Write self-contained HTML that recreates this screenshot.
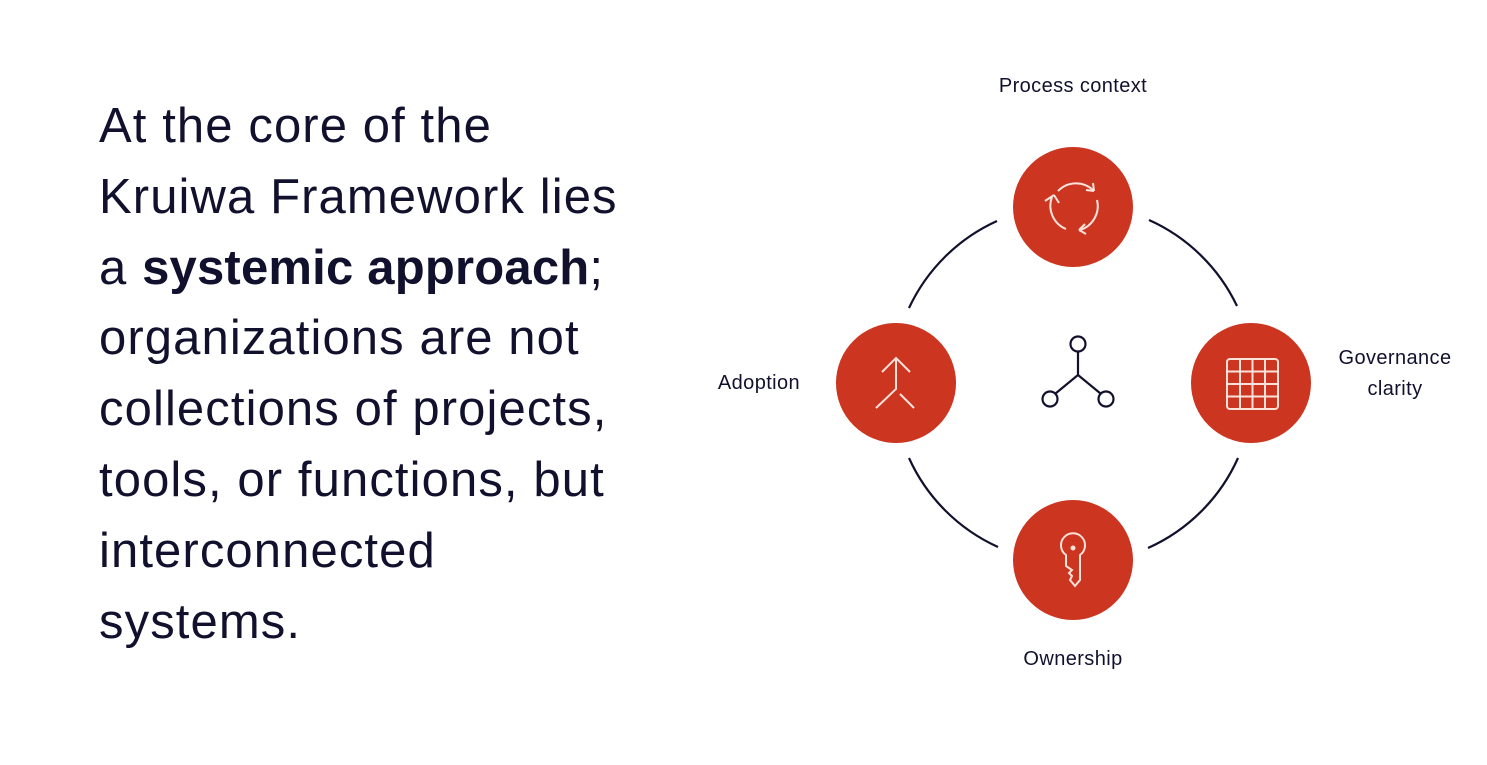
<!DOCTYPE html>
<html><head><meta charset="utf-8"><style>
html,body{margin:0;padding:0;background:#fff;}
body{width:1487px;height:765px;position:relative;overflow:hidden;font-family:"Liberation Sans",sans-serif;color:#11112e;}
.t{position:absolute;left:99px;top:91px;font-size:49px;line-height:70.8px;letter-spacing:1.1px;}
.t b{letter-spacing:0.2px;}
.l{position:absolute;font-size:20px;text-align:center;line-height:31px;letter-spacing:0.4px;}
</style></head><body>
<div class="t">At the core of the<br>Kruiwa Framework lies<br>a <b>systemic approach</b>;<br>organizations are not<br>collections of projects,<br>tools, or functions, but<br>interconnected<br>systems.</div>
<div class="l" style="left:963px;top:71px;width:220px">Process context</div>
<div class="l" style="left:695px;top:368px;width:128px">Adoption</div>
<div class="l" style="left:1320px;top:343px;width:150px">Governance<br>clarity</div>
<div class="l" style="left:963px;top:644px;width:220px">Ownership</div>
<svg width="1487" height="765" style="position:absolute;left:0;top:0">
<g fill="none" stroke="#11112e" stroke-width="2.2">
<path d="M997 221 A178 178 0 0 0 909 308"/>
<path d="M1149 220 A178 178 0 0 1 1237 306"/>
<path d="M909 458 A178 178 0 0 0 998 547"/>
<path d="M1148 548 A178 178 0 0 0 1238 458"/>
<circle cx="1078" cy="344" r="7.5"/><circle cx="1050" cy="399" r="7.5"/><circle cx="1106" cy="399" r="7.5"/>
<path d="M1078 351.5V375L1055.5 393.5M1078 375L1100.5 393.5"/>
</g>
<g fill="#cc351f"><circle cx="1073" cy="207" r="60"/><circle cx="896" cy="383" r="60"/><circle cx="1251" cy="383" r="60"/><circle cx="1073" cy="560" r="60"/></g>
<g fill="none" stroke="#fbe3dc" stroke-width="2">
<path d="M1058 191A25 25 0 0 1 1093 190M1094 191L1086 190M1094 191L1093 183"/>
<path d="M1097 200A25 25 0 0 1 1080 230M1079 230L1085 224M1079 230L1086 234"/>
<path d="M1066 229A25 25 0 0 1 1052 197M1054 195L1045 201M1054 195L1059 203"/>
<path d="M896 358V389L876 408M882 372L896 358L910 372M900 394L914 408"/>
<rect x="1227" y="359" width="51" height="50" rx="3"/>
<path d="M1240 359v50M1252.5 359v50M1265 359v50M1227 371.5h51M1227 384h51M1227 396.5h51"/>
<path d="M1066 555A12 12 0 1 1 1080 555V580L1075 586L1070 580L1072 576L1069 573L1072 570L1066 566Z"/>
</g>
<circle cx="1073" cy="548" r="2.5" fill="#fbe3dc"/>
</svg>
</body></html>
